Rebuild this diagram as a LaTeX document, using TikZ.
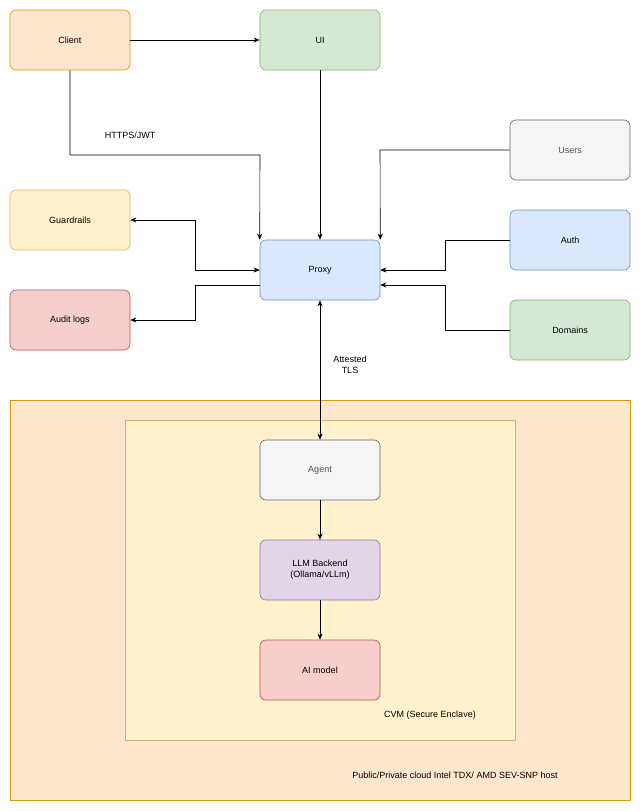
\documentclass[tikz,border=0pt]{standalone}
\usepackage{fontspec}
\setmainfont{Liberation Sans}
\usepackage{xcolor}
\usetikzlibrary{shapes,arrows.meta,positioning,calc,backgrounds,fit}

\definecolor{orangeF}{HTML}{FFE6CC}\definecolor{orangeD}{HTML}{D79B00}
\definecolor{greenF}{HTML}{D5E8D4}\definecolor{greenD}{HTML}{82B366}
\definecolor{yellowF}{HTML}{FFF2CC}\definecolor{yellowD}{HTML}{D6B656}
\definecolor{blueF}{HTML}{DAE8FC}\definecolor{blueD}{HTML}{6C8EBF}
\definecolor{redF}{HTML}{F8CECC}\definecolor{redD}{HTML}{B85450}
\definecolor{grayF}{HTML}{F5F5F5}\definecolor{grayD}{HTML}{666666}
\definecolor{purpleF}{HTML}{E1D5E7}\definecolor{purpleD}{HTML}{9673A6}

\begin{document}
\begin{tikzpicture}[x=1pt, y=-1pt, font=\fontsize{9}{11}\selectfont]
  \tikzstyle{block}=[rectangle, rounded corners=6pt, minimum width=120pt, minimum height=60pt, align=center, line width=0.6pt]
  \tikzstyle{link}=[-{Stealth[length=6pt,width=5pt]}, line width=0.6pt]
  \useasboundingbox (0,0) rectangle (641,811);

  % Zonas
  \draw[fill=orangeF, draw=orangeD] (10,400) rectangle (630,800);
  \draw[fill=yellowF, draw=yellowD] (125,420) rectangle (515,740);
  \node at (430,715) {CVM (Secure Enclave)};
  \node at (455,775) {Public/Private cloud Intel TDX/ AMD SEV-SNP host};

  % Componentes
  \node[block, fill=orangeF, draw=orangeD] (client) at (70,40) {Client};
  \node[block, fill=greenF, draw=greenD] (ui) at (320,40) {UI};
  \node[block, fill=grayF, draw=grayD, text=grayD!80!black] (users) at (570,150) {Users};
  \node[block, fill=yellowF, draw=yellowD] (guard) at (70,220) {Guardrails};
  \node[block, fill=blueF, draw=blueD] (proxy) at (320,270) {Proxy};
  \node[block, fill=blueF, draw=blueD] (auth) at (570,240) {Auth};
  \node[block, fill=redF, draw=redD] (audit) at (70,320) {Audit logs};
  \node[block, fill=greenF, draw=greenD] (domains) at (570,330) {Domains};
  \node[block, fill=grayF, draw=grayD, text=grayD!80!black] (agent) at (320,470) {Agent};
  \node[block, fill=purpleF, draw=purpleD] (llm) at (320,570) {LLM Backend\\(Ollama/vLLm)};
  \node[block, fill=redF, draw=redD] (model) at (320,670) {AI model};

  % Conexiones
  \draw[link] (client) -- (ui);
  \draw[link] (client.south) -- (70,155) -- (260,155) -- (proxy.north west);
  \node at (130,135) {HTTPS/JWT};
  \draw[link] (ui) -- (proxy);
  \draw[link] (users.west) -- (380,150) -- (proxy.north east);
  \draw[link] (auth.west) -- (445,240) -- (445,270) -- (proxy.east);
  \draw[link] (domains.west) -- (445,330) -- (445,285) -- (proxy.east |- 0,285);
  \draw[link, {Stealth[length=6pt,width=5pt]}-{Stealth[length=6pt,width=5pt]}] (proxy.west) -- (195,270) -- (195,220) -- (guard.east);
  \draw[link] (proxy.west |- 0,285) -- (195,285) -- (195,320) -- (audit.east);
  \draw[link, {Stealth[length=6pt,width=5pt]}-{Stealth[length=6pt,width=5pt]}] (proxy) -- (agent);
  \node[align=center] at (350,365) {Attested\\TLS};
  \draw[link] (agent) -- (llm);
  \draw[link] (llm) -- (model);
\end{tikzpicture}
\end{document}
